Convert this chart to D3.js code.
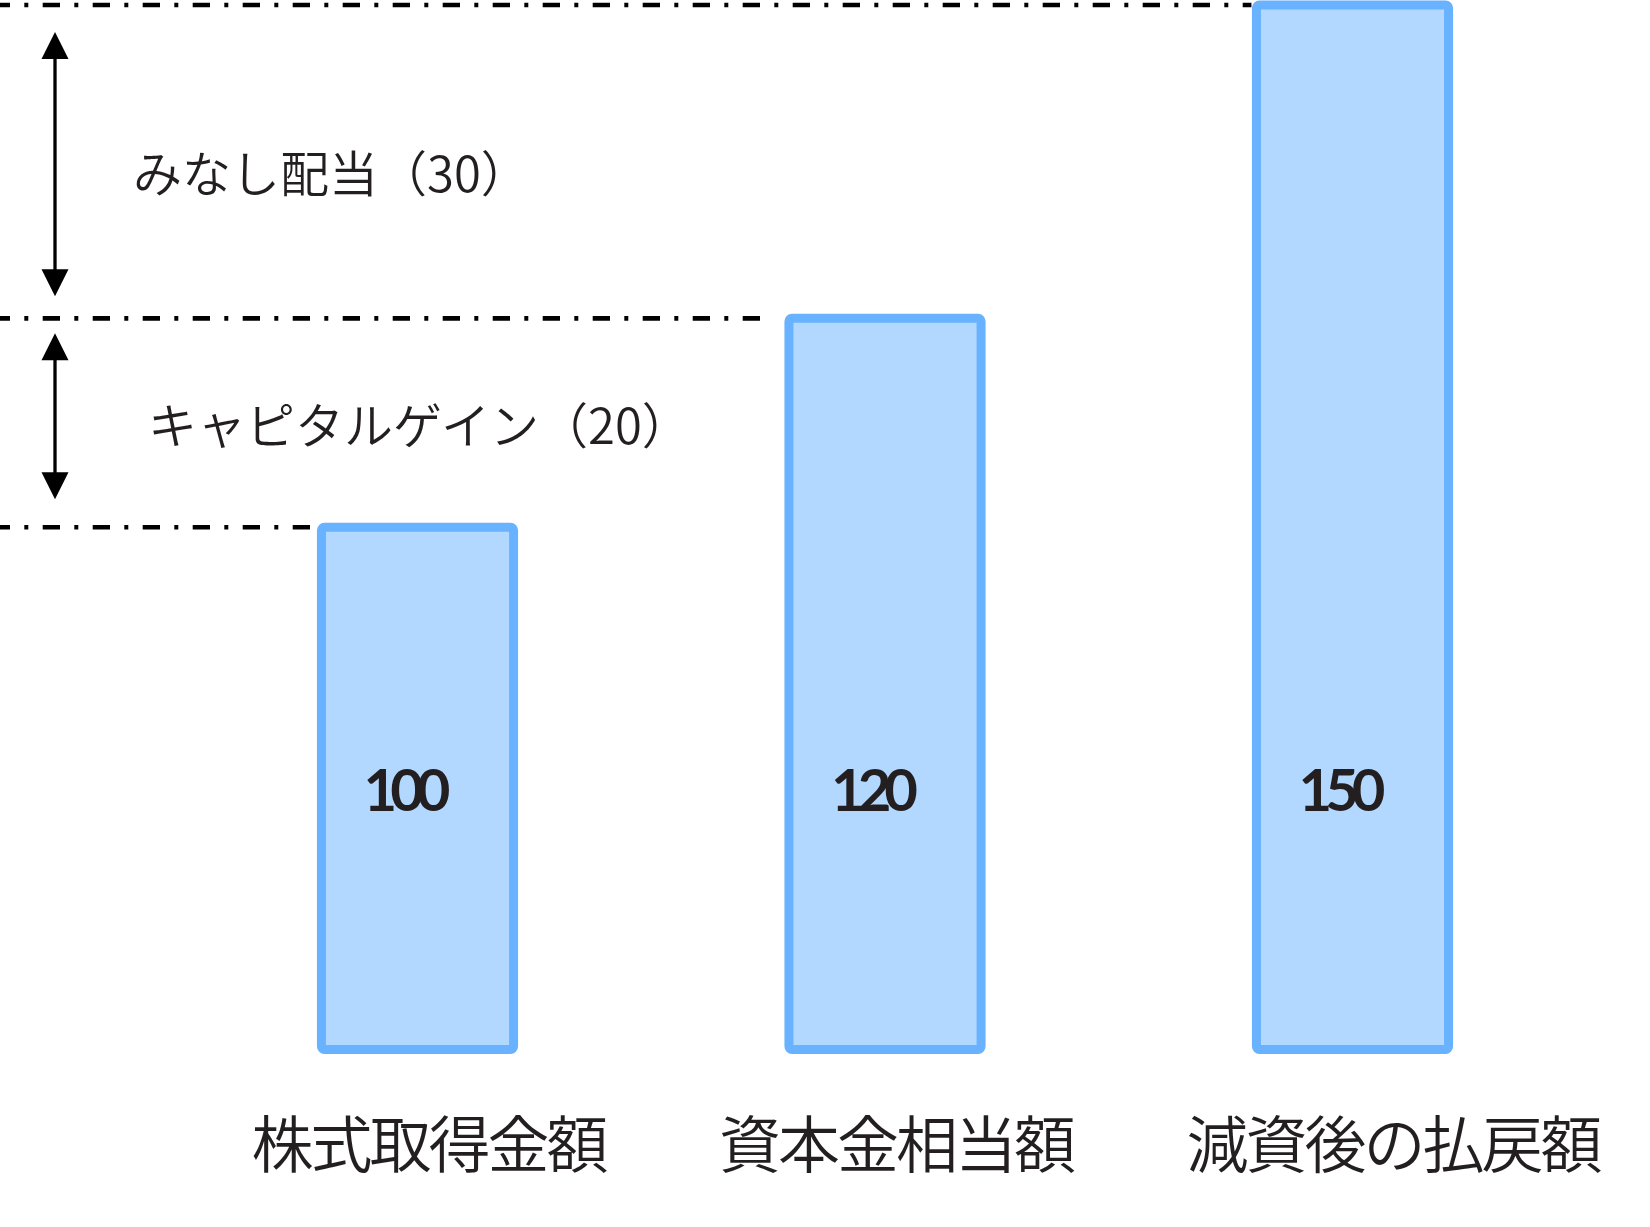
<!DOCTYPE html>
<html><head><meta charset="utf-8">
<script src="https://cdn.jsdelivr.net/npm/d3@7"></script>
<style>
html,body{margin:0;padding:0;background:#fff;}
svg{display:block;}
</style></head>
<body>
<svg id="chart" width="1650" height="1227"></svg>
<script>
// ---- data ----
const categories = ["株式取得金額", "資本金相当額", "減資後の払戻額"];
const values = [100, 120, 150];
const valueLabels = ["100", "120", "150"];
const levelValues = [150, 120, 100];           // dash-dot reference levels
const annotationRanges = [[150, 120], [120, 100]];
const annotationNames = ["みなし配当", "キャピタルゲイン"];
const yDomain = [50, 150];

// ---- layout / style ----
const W = 1650, H = 1227;
const fillColor = "#B2D8FF", strokeColor = "#68B2FF", textColor = "#231F20";
const barStroke = 9;
const levelLineGap = [5, 25, 0];          // gap before bar for each level line
const arrowInsets = [[27, 22], [15, 28]];
const annX = [133, 148], annDy = [30, 21];
const valueLabelDx = -14, valueLabelY = 811;
const catLabelY = 1168, catLabelDx = -70;

const svg = d3.select("#chart");

const x = d3.scaleBand()
  .domain(categories)
  .range([183.75, 1586.25])
  .paddingInner(0.589)
  .paddingOuter(0.2945);

const y = d3.scaleLinear().domain(yDomain).range([1049.5, 5]);

// bars
svg.append("g").selectAll("rect")
  .data(values)
  .join("rect")
  .attr("x", (d, i) => x(categories[i]))
  .attr("y", d => y(d))
  .attr("width", x.bandwidth())
  .attr("height", d => y(yDomain[0]) - y(d))
  .attr("rx", 3).attr("ry", 3)
  .attr("fill", fillColor)
  .attr("stroke", strokeColor)
  .attr("stroke-width", barStroke);

// level dash-dot lines
svg.append("g").selectAll("line")
  .data(levelValues)
  .join("line")
  .attr("x1", 0)
  .attr("x2", (d, i) => {
    const idx = values.indexOf(d);
    return x(categories[idx]) - levelLineGap[i];
  })
  .attr("y1", d => y(d))
  .attr("y2", d => y(d))
  .attr("stroke", "#000")
  .attr("stroke-width", 4.6)
  .attr("stroke-dasharray", "17.3,14.3,4,14.4")
  .attr("stroke-dashoffset", 7.3);

// value labels
svg.append("g").selectAll("text")
  .data(valueLabels)
  .join("text")
  .attr("x", (d, i) => x(categories[i]) + x.bandwidth() / 2 + valueLabelDx)
  .attr("y", valueLabelY)
  .attr("text-anchor", "middle")
  .attr("font-family", "Lato, 'Open Sans', sans-serif")
  .attr("font-weight", 700)
  .attr("font-size", 58)
  .attr("letter-spacing", "-7px")
  .attr("fill", textColor)
  .text(d => d);

// category labels
svg.append("g").selectAll("text")
  .data(categories)
  .join("text")
  .attr("x", d => x(d) + catLabelDx)
  .attr("y", catLabelY)
  .attr("font-family", "'Noto Sans CJK JP', sans-serif")
  .attr("font-weight", 350)
  .attr("font-size", 62)
  .attr("letter-spacing", "-3px")
  .attr("fill", textColor)
  .text(d => d);

// arrows + annotations
const arrowX = 55, headW = 13.5, headL = 27;
const ag = svg.append("g");
annotationRanges.forEach((r, i) => {
  const yTop = y(r[0]) + arrowInsets[i][0];
  const yBot = y(r[1]) - arrowInsets[i][1];
  ag.append("line")
    .attr("x1", arrowX).attr("x2", arrowX)
    .attr("y1", yTop + headL - 1).attr("y2", yBot - headL + 1)
    .attr("stroke", "#000").attr("stroke-width", 3.3);
  ag.append("path")
    .attr("d", `M${arrowX},${yTop} L${arrowX + headW},${yTop + headL} L${arrowX - headW},${yTop + headL} Z`)
    .attr("fill", "#000");
  ag.append("path")
    .attr("d", `M${arrowX},${yBot} L${arrowX + headW},${yBot - headL} L${arrowX - headW},${yBot - headL} Z`)
    .attr("fill", "#000");
  const mid = (y(r[0]) + y(r[1])) / 2;
  ag.append("text")
    .attr("x", annX[i])
    .attr("y", mid + annDy[i])
    .attr("font-family", "'Noto Sans CJK JP', sans-serif")
    .attr("font-weight", 350)
    .attr("font-size", 49)
    .attr("fill", textColor)
    .text(`${annotationNames[i]}（${r[0] - r[1]}）`);
});
</script>
</body></html>
